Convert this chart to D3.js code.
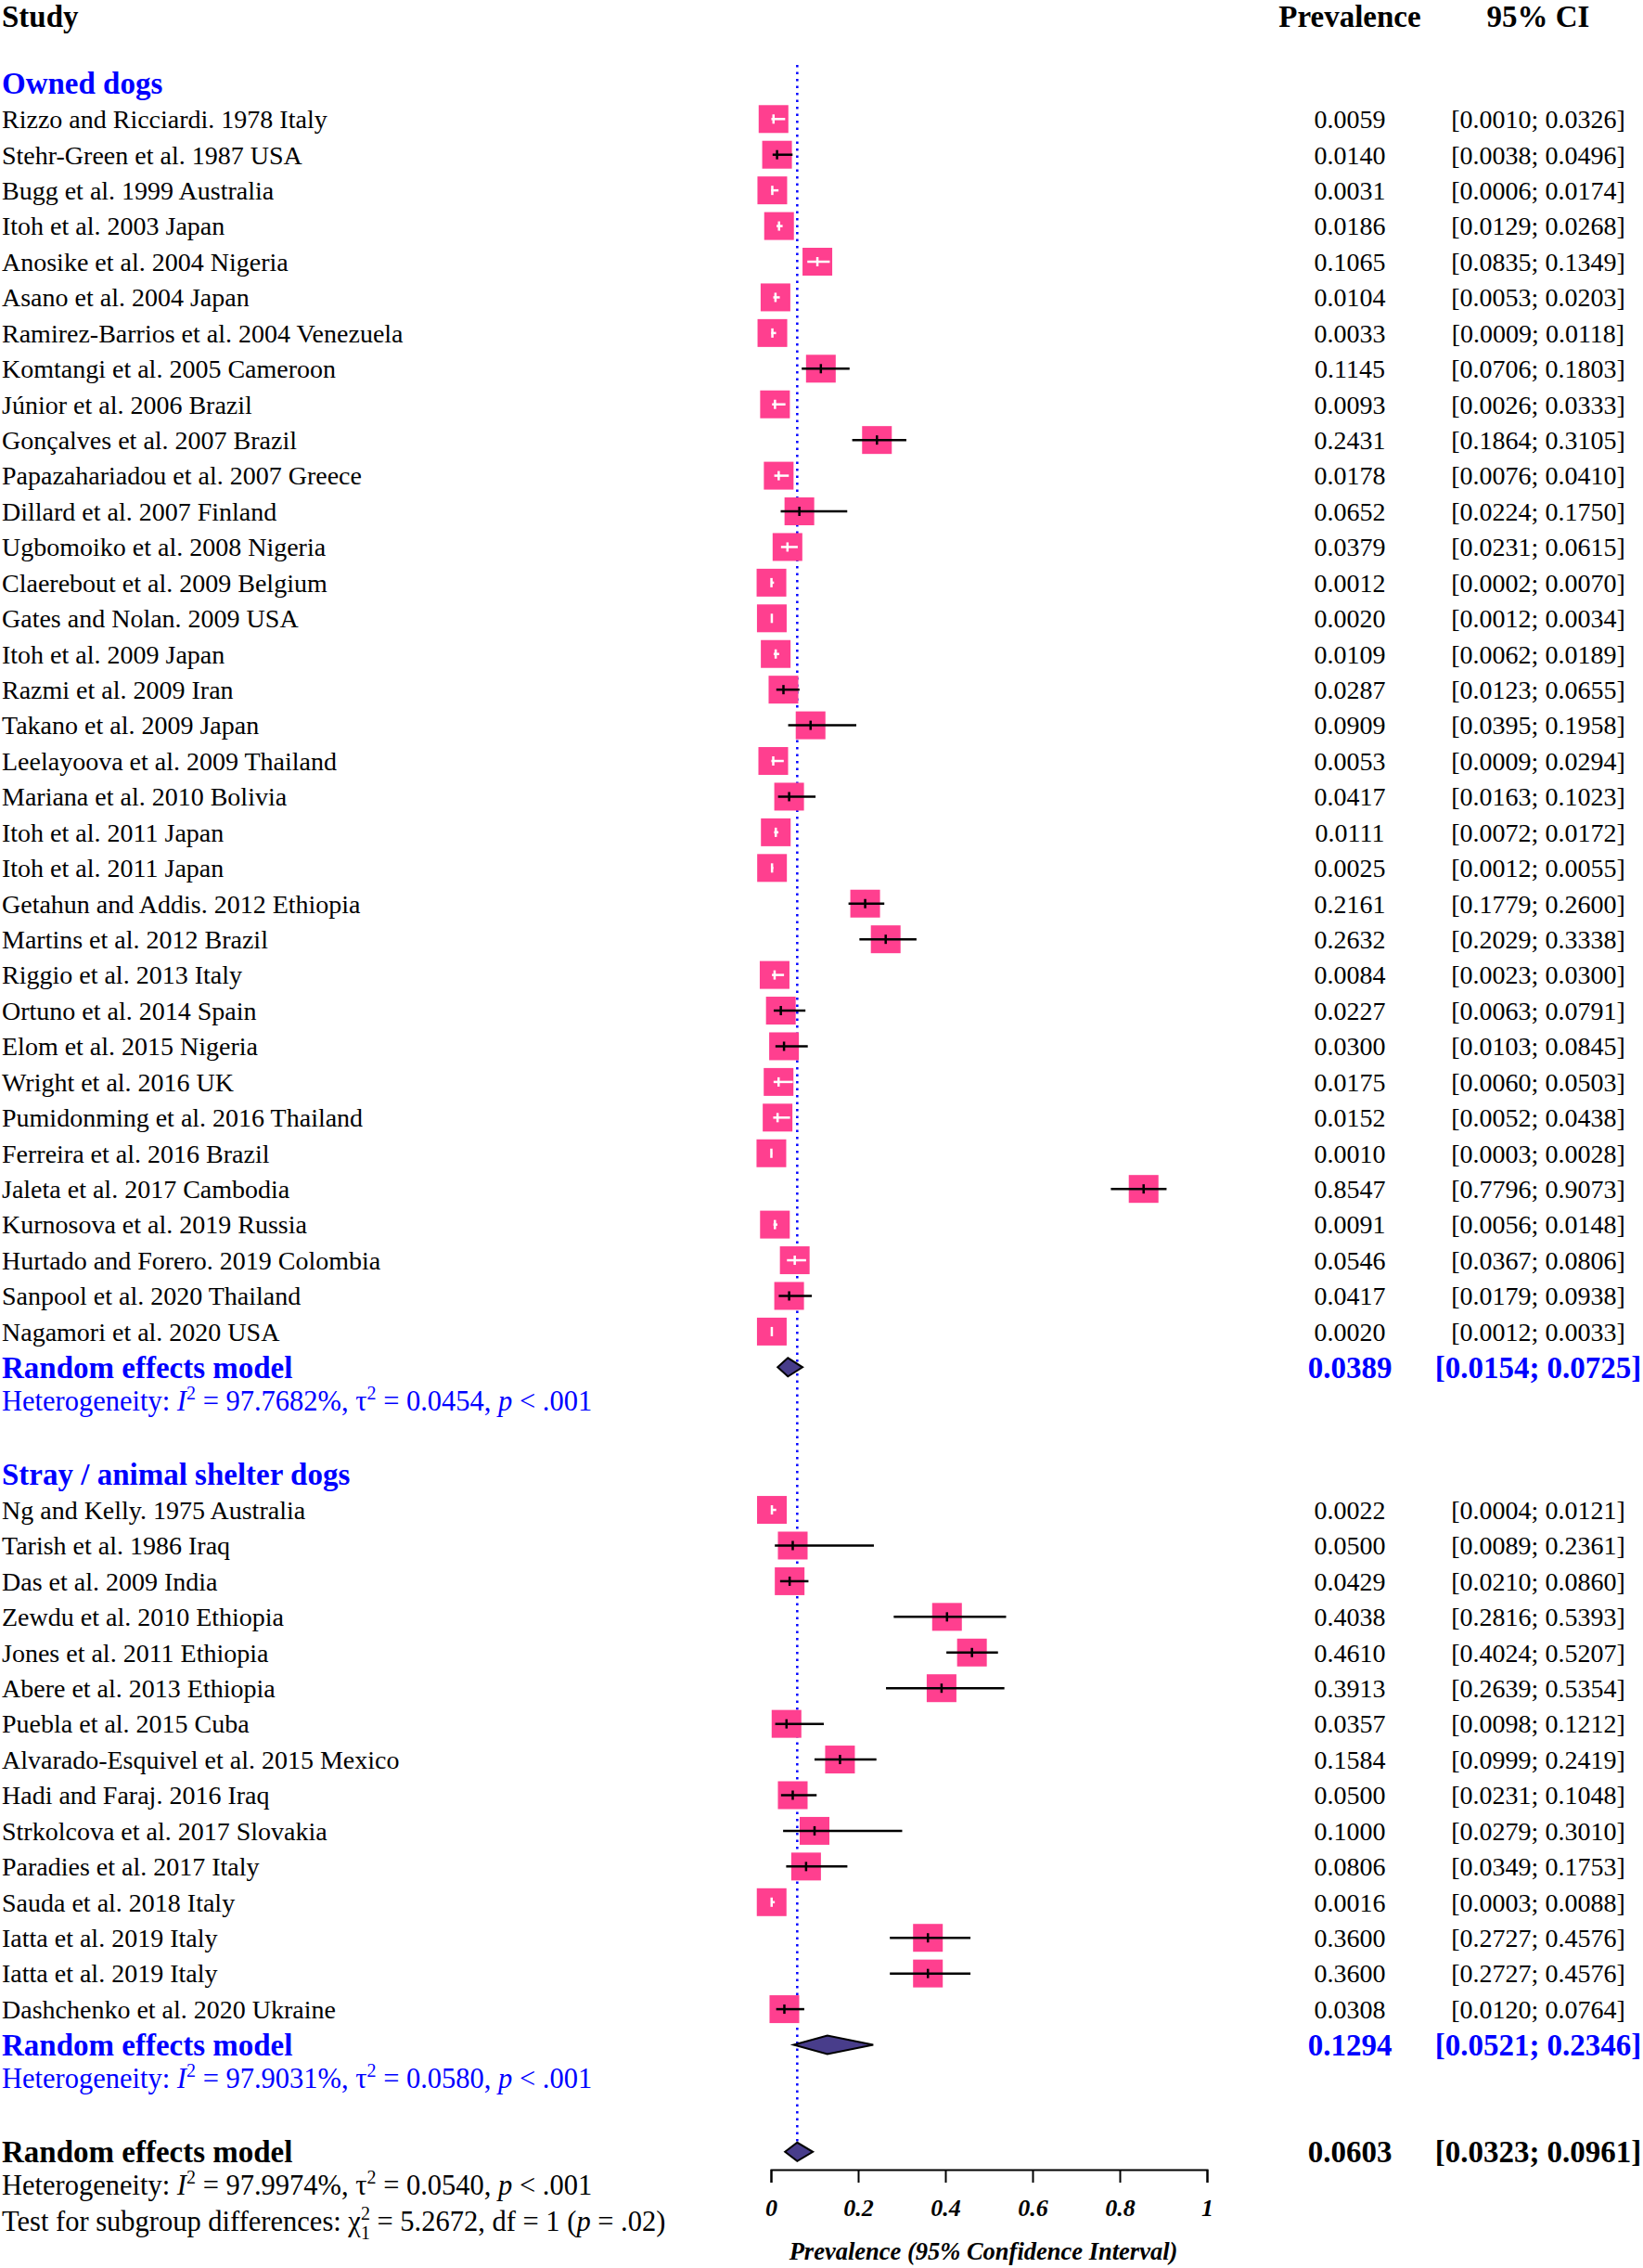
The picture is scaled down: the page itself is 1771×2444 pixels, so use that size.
<!DOCTYPE html>
<html>
<head>
<meta charset="utf-8">
<script src="https://cdn.jsdelivr.net/npm/d3@7"></script>
<style>
  body { margin: 0; background: #fff; }
  svg text { font-family: "Liberation Serif", "Times New Roman", serif; }
</style>
</head>
<body>
<div class="chart"></div>
<script>
// ---- data ----
var ownedStudies = [
  "Rizzo and Ricciardi. 1978 Italy", "Stehr-Green et al. 1987 USA", "Bugg et al. 1999 Australia",
  "Itoh et al. 2003 Japan", "Anosike et al. 2004 Nigeria", "Asano et al. 2004 Japan",
  "Ramirez-Barrios et al. 2004 Venezuela", "Komtangi et al. 2005 Cameroon", "Júnior et al. 2006 Brazil",
  "Gonçalves et al. 2007 Brazil", "Papazahariadou et al. 2007 Greece", "Dillard et al. 2007 Finland",
  "Ugbomoiko et al. 2008 Nigeria", "Claerebout et al. 2009 Belgium", "Gates and Nolan. 2009 USA",
  "Itoh et al. 2009 Japan", "Razmi et al. 2009 Iran", "Takano et al. 2009 Japan",
  "Leelayoova et al. 2009 Thailand", "Mariana et al. 2010 Bolivia", "Itoh et al. 2011 Japan",
  "Itoh et al. 2011 Japan", "Getahun and Addis. 2012 Ethiopia", "Martins et al. 2012 Brazil",
  "Riggio et al. 2013 Italy", "Ortuno et al. 2014 Spain", "Elom et al. 2015 Nigeria",
  "Wright et al. 2016 UK", "Pumidonming et al. 2016 Thailand", "Ferreira et al. 2016 Brazil",
  "Jaleta et al. 2017 Cambodia", "Kurnosova et al. 2019 Russia", "Hurtado and Forero. 2019 Colombia",
  "Sanpool et al. 2020 Thailand", "Nagamori et al. 2020 USA"
];
var ownedPrev = [0.0059, 0.0140, 0.0031, 0.0186, 0.1065, 0.0104, 0.0033, 0.1145, 0.0093, 0.2431,
  0.0178, 0.0652, 0.0379, 0.0012, 0.0020, 0.0109, 0.0287, 0.0909, 0.0053, 0.0417, 0.0111, 0.0025,
  0.2161, 0.2632, 0.0084, 0.0227, 0.0300, 0.0175, 0.0152, 0.0010, 0.8547, 0.0091, 0.0546, 0.0417, 0.0020];
var ownedLower = [0.0010, 0.0038, 0.0006, 0.0129, 0.0835, 0.0053, 0.0009, 0.0706, 0.0026, 0.1864,
  0.0076, 0.0224, 0.0231, 0.0002, 0.0012, 0.0062, 0.0123, 0.0395, 0.0009, 0.0163, 0.0072, 0.0012,
  0.1779, 0.2029, 0.0023, 0.0063, 0.0103, 0.0060, 0.0052, 0.0003, 0.7796, 0.0056, 0.0367, 0.0179, 0.0012];
var ownedUpper = [0.0326, 0.0496, 0.0174, 0.0268, 0.1349, 0.0203, 0.0118, 0.1803, 0.0333, 0.3105,
  0.0410, 0.1750, 0.0615, 0.0070, 0.0034, 0.0189, 0.0655, 0.1958, 0.0294, 0.1023, 0.0172, 0.0055,
  0.2600, 0.3338, 0.0300, 0.0791, 0.0845, 0.0503, 0.0438, 0.0028, 0.9073, 0.0148, 0.0806, 0.0938, 0.0033];

var strayStudies = [
  "Ng and Kelly. 1975 Australia", "Tarish et al. 1986 Iraq", "Das et al. 2009 India",
  "Zewdu et al. 2010 Ethiopia", "Jones et al. 2011 Ethiopia", "Abere et al. 2013 Ethiopia",
  "Puebla et al. 2015 Cuba", "Alvarado-Esquivel et al. 2015 Mexico", "Hadi and Faraj. 2016 Iraq",
  "Strkolcova et al. 2017 Slovakia", "Paradies et al. 2017 Italy", "Sauda et al. 2018 Italy",
  "Iatta et al. 2019 Italy", "Iatta et al. 2019 Italy", "Dashchenko et al. 2020 Ukraine"
];
var strayPrev = [0.0022, 0.0500, 0.0429, 0.4038, 0.4610, 0.3913, 0.0357, 0.1584, 0.0500, 0.1000,
  0.0806, 0.0016, 0.3600, 0.3600, 0.0308];
var strayLower = [0.0004, 0.0089, 0.0210, 0.2816, 0.4024, 0.2639, 0.0098, 0.0999, 0.0231, 0.0279,
  0.0349, 0.0003, 0.2727, 0.2727, 0.0120];
var strayUpper = [0.0121, 0.2361, 0.0860, 0.5393, 0.5207, 0.5354, 0.1212, 0.2419, 0.1048, 0.3010,
  0.1753, 0.0088, 0.4576, 0.4576, 0.0764];

var groupNames = ["Owned dogs", "Stray / animal shelter dogs"];
// pooled estimates: owned, stray, overall
var pooledPrev = [0.0389, 0.1294, 0.0603];
var pooledLower = [0.0154, 0.0521, 0.0323];
var pooledUpper = [0.0725, 0.2346, 0.0961];
var pooledI2 = ["97.7682%", "97.9031%", "97.9974%"];
var pooledTau2 = ["0.0454", "0.0580", "0.0540"];
var subgroupChi2 = "5.2672", subgroupDf = "1", subgroupP = ".02";
var axisTicks = [0, 0.2, 0.4, 0.6, 0.8, 1];

// ---- layout ----
var width = 1771, height = 2444;
var svg = d3.select(".chart").append("svg").attr("width", width).attr("height", height);

var x = d3.scaleLinear().domain([0, 1]).range([831, 1301]);
var y = d3.scaleLinear().domain([0, 62]).range([13, 13 + 62 * 38.43]);
var fmt = d3.format(".4f");
var prevX = 1455, ciX = 1658, textX = 2;
var half = 16;
var pink = "#ff3f8f", blue = "#0000ff", dia = "#483d8b";

function ciText(lo, hi) { return "[" + fmt(lo) + "; " + fmt(hi) + "]"; }

function label(row, txt, opts) {
  opts = opts || {};
  return svg.append("text")
    .attr("x", opts.x != null ? opts.x : textX)
    .attr("y", y(row) + (opts.dy || 0))
    .attr("dy", "0.35em")
    .attr("text-anchor", opts.anchor || "start")
    .attr("font-size", opts.size || 28)
    .attr("font-weight", opts.bold ? "bold" : "normal")
    .attr("fill", opts.color || "#000")
    .text(txt);
}

// text with italics / super- and subscripts
function richText(row, segs, color) {
  var t = svg.append("text")
    .attr("x", textX).attr("y", y(row) + 8).attr("dy", "0.35em")
    .attr("font-size", 30.5).attr("fill", color);
  var shift = 0;
  segs.forEach(function(s) {
    var target = s.sup ? -12 : s.sub ? 9 : 0;
    var ts = t.append("tspan").text(s.t).attr("dy", target - shift);
    if (s.sup || s.sub) ts.attr("font-size", 20);
    if (s.it) ts.attr("font-style", "italic");
    if (s.back) ts.attr("dx", -s.back);
    shift = target;
  });
}

function hetSegs(i) {
  return [{ t: "Heterogeneity: " }, { t: "I", it: true }, { t: "2", sup: true },
    { t: " = " + pooledI2[i] + ", τ" }, { t: "2", sup: true },
    { t: " = " + pooledTau2[i] + ", " }, { t: "p", it: true }, { t: " < .001" }];
}

function diamond(row, i) {
  var yc = y(row);
  svg.append("path")
    .attr("d", "M" + x(pooledLower[i]) + "," + yc + "L" + x(pooledPrev[i]) + "," + (yc - 10) +
      "L" + x(pooledUpper[i]) + "," + yc + "L" + x(pooledPrev[i]) + "," + (yc + 10) + "Z")
    .attr("fill", dia).attr("stroke", "#000").attr("stroke-width", 2);
}

// headers
label(0, "Study", { bold: true, size: 33, dy: 4 });
label(0, "Prevalence", { bold: true, size: 33, x: prevX, anchor: "middle", dy: 4 });
label(0, "95% CI", { bold: true, size: 33, x: ciX, anchor: "middle", dy: 4 });

// reference line at overall estimate
svg.append("line")
  .attr("x1", x(pooledPrev[2])).attr("x2", x(pooledPrev[2]))
  .attr("y1", 70).attr("y2", y(60) - 11)
  .attr("stroke", blue).attr("stroke-width", 2.5).attr("stroke-dasharray", "2.5,5");

var groups = [
  { studies: ownedStudies, prev: ownedPrev, lo: ownedLower, hi: ownedUpper, start: 2 },
  { studies: strayStudies, prev: strayPrev, lo: strayLower, hi: strayUpper, start: 41 }
];

groups.forEach(function(g, gi) {
  label(g.start, groupNames[gi], { bold: true, size: 33, color: blue });
  g.studies.forEach(function(name, i) {
    var row = g.start + 1 + i, yc = y(row);
    var cx = x(g.prev[i]), xl = x(g.lo[i]), xh = x(g.hi[i]);
    // CI drawn white when it fits inside the square
    var inside = xl >= cx - half && xh <= cx + half;
    var lc = inside ? "#fff" : "#000";
    label(row, name);
    label(row, fmt(g.prev[i]), { x: prevX, anchor: "middle" });
    label(row, ciText(g.lo[i], g.hi[i]), { x: ciX, anchor: "middle" });
    svg.append("rect")
      .attr("x", cx - half).attr("y", yc - half + 1)
      .attr("width", half * 2).attr("height", half * 2 - 2)
      .attr("fill", pink);
    svg.append("line").attr("x1", xl).attr("x2", xh).attr("y1", yc).attr("y2", yc)
      .attr("stroke", lc).attr("stroke-width", 2.5);
    svg.append("line").attr("x1", cx).attr("x2", cx).attr("y1", yc - 5).attr("y2", yc + 5)
      .attr("stroke", lc).attr("stroke-width", 2.5);
  });
  var reRow = g.start + 1 + g.studies.length;
  label(reRow, "Random effects model", { bold: true, size: 33, color: blue });
  label(reRow, fmt(pooledPrev[gi]), { bold: true, size: 33, color: blue, x: prevX, anchor: "middle" });
  label(reRow, ciText(pooledLower[gi], pooledUpper[gi]), { bold: true, size: 33, color: blue, x: ciX, anchor: "middle" });
  diamond(reRow, gi);
  richText(reRow + 1, hetSegs(gi), blue);
});

// overall
label(60, "Random effects model", { bold: true, size: 33 });
label(60, fmt(pooledPrev[2]), { bold: true, size: 33, x: prevX, anchor: "middle" });
label(60, ciText(pooledLower[2], pooledUpper[2]), { bold: true, size: 33, x: ciX, anchor: "middle" });
diamond(60, 2);
richText(61, hetSegs(2), "#000");
richText(62, [{ t: "Test for subgroup differences: χ" }, { t: "2", sup: true }, { t: "1", sub: true, back: 10 },
  { t: " = " + subgroupChi2 + ", df = " + subgroupDf + " (" }, { t: "p", it: true }, { t: " = " + subgroupP + ")" }], "#000");

// axis
var axisY = 2338;
var axis = svg.append("g").attr("transform", "translate(0," + axisY + ")")
  .call(d3.axisBottom(x).tickValues(axisTicks).tickSize(14).tickSizeOuter(14).tickPadding(18)
    .tickFormat(function(d) { return String(d); }));
axis.select(".domain").attr("stroke", "#000").attr("stroke-width", 2);
axis.selectAll(".tick line").attr("stroke", "#000").attr("stroke-width", 2);
axis.selectAll(".tick text")
  .attr("font-family", "Liberation Serif, serif")
  .attr("font-size", 26).attr("font-weight", "bold").attr("font-style", "italic").attr("fill", "#000");

svg.append("text")
  .attr("x", (x(0) + x(1)) / 2 - 6).attr("y", 2426).attr("dy", "0.35em")
  .attr("text-anchor", "middle").attr("font-size", 26.5)
  .attr("font-weight", "bold").attr("font-style", "italic")
  .text("Prevalence (95% Confidence Interval)");
</script>
</body>
</html>
